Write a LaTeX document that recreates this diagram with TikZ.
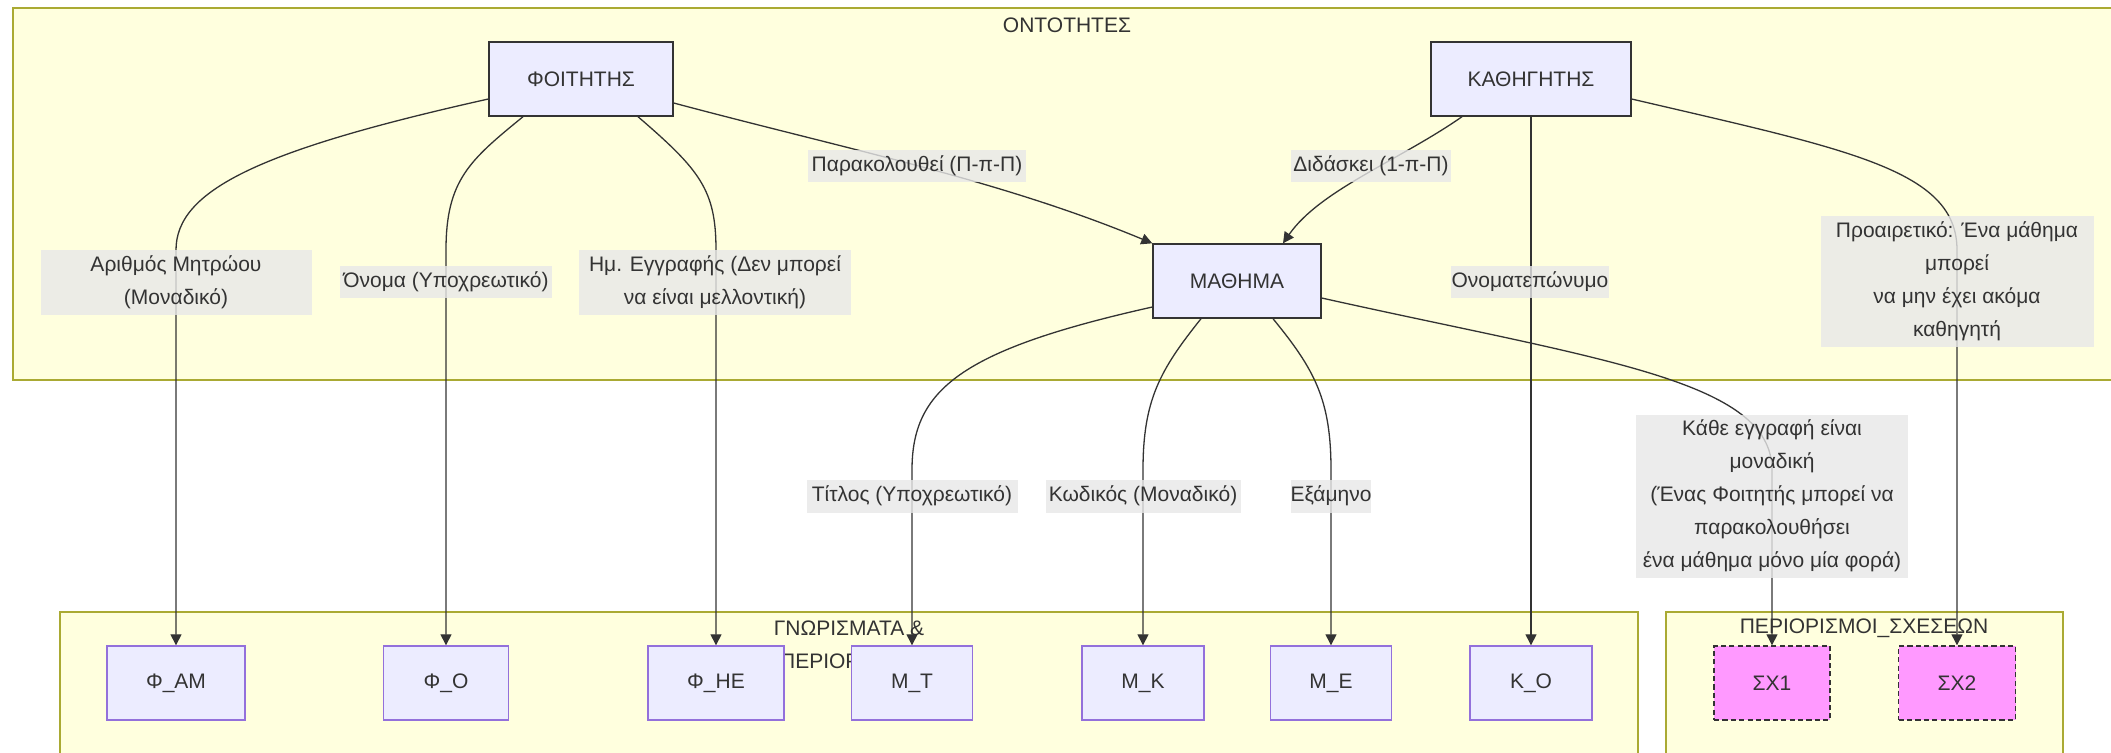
\documentclass[tikz,border=0pt]{standalone}
\usepackage{fontspec}
\setmainfont{Liberation Sans}
\usetikzlibrary{arrows.meta,calc}
\definecolor{ink}{HTML}{333333}
\definecolor{nodefill}{HTML}{ECECFF}
\definecolor{nodeline}{HTML}{9370DB}
\definecolor{clusterfill}{HTML}{FFFFDE}
\definecolor{clusterline}{HTML}{AAAA33}
\definecolor{labelfill}{HTML}{E8E8E8}
\definecolor{relfill}{HTML}{FF99FF}
\pgfdeclarelayer{bg}
\pgfdeclarelayer{edges}
\pgfsetlayers{bg,edges,main}
\tikzset{
  txt/.style={font=\fontsize{10.5}{16.5}\selectfont, text=ink},
  entity/.style={txt, draw=ink, fill=nodefill, line width=0.7pt, minimum height=37pt, inner sep=0pt},
  attr/.style={txt, draw=nodeline, fill=nodefill, line width=0.7pt, minimum height=37pt, inner sep=0pt},
  relbox/.style={txt, draw=ink, fill=relfill, line width=0.7pt, dash pattern=on 2.6pt off 1.6pt, minimum height=37pt, inner sep=0pt},
  elabel/.style={txt, fill=labelfill, fill opacity=0.8, text opacity=1, align=center, inner sep=0pt},
  cluster/.style={fill=clusterfill, draw=clusterline, line width=0.7pt},
  ctitle/.style={txt, align=center, inner sep=0pt},
  edge/.style={draw=ink, line width=0.65pt},
  arr/.style={edge, -{Triangle[length=5.5pt,width=5.5pt]}},
}
\begin{document}
\begin{tikzpicture}[x=0.5pt, y=-0.5pt]
\useasboundingbox (0,0) rectangle (2111,752);

% groups
\begin{pgfonlayer}{bg}
  \fill[white] (0,0) rectangle (2111,752);
  \draw[cluster] (13,8) rectangle (2120,380);
  \draw[cluster] (60,612) rectangle (1638,770);
  \draw[cluster] (1666,612) rectangle (2063,770);
  \node[ctitle] (tOnt) at (1067,25) {ΟΝΤΟΤΗΤΕΣ};
  \node[ctitle, anchor=north] (tAttr) at (849,620) {ΓΝΩΡΙΣΜΑΤΑ \&\\ΠΕΡΙΟΡΙΣΜΟΙ};
  \node[ctitle] (tRel) at (1864,628) {ΠΕΡΙΟΡΙΣΜΟΙ\_ΣΧΕΣΕΩΝ};
\end{pgfonlayer}

% entities
\node[entity, minimum width=92pt] (F) at (581,79) {ΦΟΙΤΗΤΗΣ};
\node[entity, minimum width=100pt] (K) at (1531,79) {ΚΑΘΗΓΗΤΗΣ};
\node[entity, minimum width=84pt] (M) at (1237,281) {ΜΑΘΗΜΑ};

% attributes and constraints
\node[attr, minimum width=69pt] (FAM) at (176,683) {Φ\_ΑΜ};
\node[attr, minimum width=62.5pt] (FO) at (446,683) {Φ\_Ο};
\node[attr, minimum width=68pt] (FHE) at (716,683) {Φ\_ΗΕ};
\node[attr, minimum width=60.5pt] (MT) at (912,683) {Μ\_Τ};
\node[attr, minimum width=61pt] (MK) at (1143,683) {Μ\_Κ};
\node[attr, minimum width=60.5pt] (ME) at (1331,683) {Μ\_Ε};
\node[attr, minimum width=61pt] (KO) at (1531,683) {Κ\_Ο};
\node[relbox, minimum width=58pt] (SX1) at (1772,683) {ΣΧ1};
\node[relbox, minimum width=58.5pt] (SX2) at (1957,683) {ΣΧ2};

% connectors
\begin{pgfonlayer}{edges}
  \draw[arr] ($(F.west)+(0,20)$) .. controls (260,150) and (176,190) .. (176,250) -- (FAM.north);
  \draw[arr] ($(F.south)+(-58,0)$) .. controls (470,160) and (446,180) .. (446,250) -- (FO.north);
  \draw[arr] ($(F.south)+(57,0)$) .. controls (700,170) and (716,190) .. (716,250) -- (FHE.north);
  \draw[arr] ($(F.east)+(0,24)$) .. controls (850,150) and (1000,180) .. (M.north west);
  \draw[arr] ($(K.south)+(-69,0)$) .. controls (1400,160) and (1320,190) .. ($(M.north)+(46,0)$);
  \draw[arr] (K.south) -- (KO.north);
  \draw[arr] ($(K.east)+(0,20)$) .. controls (1850,150) and (1957,170) .. (1957,250) -- (SX2.north);
  \draw[arr] ($(M.west)+(0,26)$) .. controls (960,350) and (912,390) .. (912,470) -- (MT.north);
  \draw[arr] ($(M.south)+(-36,0)$) .. controls (1160,370) and (1143,400) .. (1143,470) -- (MK.north);
  \draw[arr] ($(M.south)+(36,0)$) .. controls (1315,370) and (1331,400) .. (1331,470) -- (ME.north);
  \draw[arr] ($(M.east)+(0,17)$) .. controls (1600,360) and (1772,380) .. (1772,470) -- (SX1.north);
\end{pgfonlayer}

% connector labels
\node[elabel, minimum width=135.5pt, minimum height=32.5pt] (L1) at (176,282) {Αριθμός Μητρώου\\(Μοναδικό)};
\node[elabel, minimum width=106pt, minimum height=16pt] (L2) at (446,282) {Όνομα (Υποχρεωτικό)};
\node[elabel, minimum width=136pt, minimum height=32.5pt] (L3) at (715,282) {Ημ. Εγγραφής (Δεν μπορεί\\να είναι μελλοντική)};
\node[elabel, minimum width=109pt, minimum height=16pt] (L4) at (917,166) {Παρακολουθεί (Π-π-Π)};
\node[elabel, minimum width=80pt, minimum height=16pt] (L5) at (1371,166) {Διδάσκει (1-π-Π)};
\node[elabel, minimum width=79pt, minimum height=16pt] (L6) at (1530,282) {Ονοματεπώνυμο};
\node[elabel, minimum width=136.5pt, minimum height=65.5pt] (L7) at (1957,281) {Προαιρετικό: Ένα μάθημα\\μπορεί\\να μην έχει ακόμα\\καθηγητή};
\node[elabel, minimum width=105.5pt, minimum height=16.5pt] (L8) at (912,496) {Τίτλος (Υποχρεωτικό)};
\node[elabel, minimum width=97.5pt, minimum height=16.5pt] (L9) at (1143,496) {Κωδικός (Μοναδικό)};
\node[elabel, minimum width=40pt, minimum height=16.5pt] (L10) at (1331,496) {Εξάμηνο};
\node[elabel, minimum width=136pt, minimum height=81.5pt] (L11) at (1772,496) {Κάθε εγγραφή είναι\\μοναδική\\(Ένας Φοιτητής μπορεί να\\παρακολουθήσει\\ένα μάθημα μόνο μία φορά)};
\end{tikzpicture}
\end{document}
